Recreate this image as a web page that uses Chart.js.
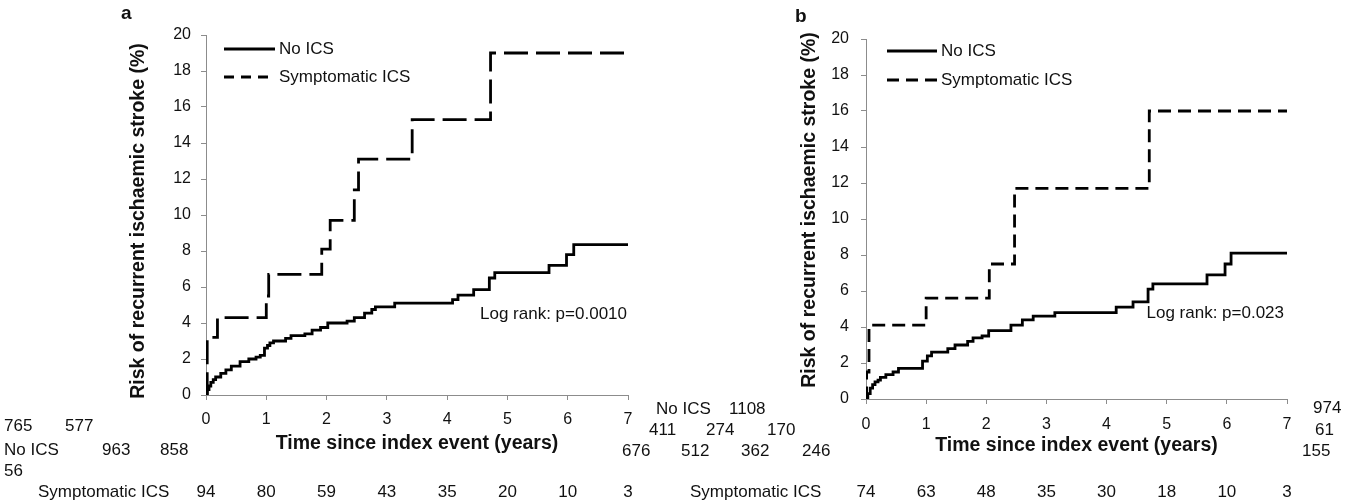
<!DOCTYPE html>
<html><head><meta charset="utf-8">
<script src="https://cdn.jsdelivr.net/npm/chart.js@4.4.1/dist/chart.umd.min.js"></script>
<style>
html,body{margin:0;padding:0;background:#fff;}
#wrap{position:relative;width:1360px;height:502px;overflow:hidden;font-family:"Liberation Sans",Arial,sans-serif;}
canvas{position:absolute;top:0;}
.t{position:absolute;font-size:17px;line-height:20px;white-space:nowrap;color:#111;}
</style></head><body>
<div id="wrap">
<canvas id="ca" width="680" height="502" style="left:0px"></canvas>
<canvas id="cb" width="680" height="502" style="left:680px"></canvas>
</div>
<script>
// ---------- data ----------
const riskTimes = [0, 1, 2, 3, 4, 5, 6, 7];

// Panel a
const aNoIcsTime = [0, 0.02, 0.05, 0.08, 0.12, 0.16, 0.245, 0.33, 0.42, 0.565, 0.71, 0.83, 0.9, 0.97, 1.02, 1.06, 1.12, 1.32, 1.41, 1.64, 1.76, 1.9, 2.02, 2.34, 2.46, 2.63, 2.75, 2.81, 3.13, 4.09, 4.18, 4.44, 4.7, 4.79, 5.69, 5.98, 6.1, 7.0];
const aNoIcsRisk = [0, 0.3, 0.5, 0.7, 0.85, 1.0, 1.2, 1.4, 1.6, 1.85, 2.0, 2.1, 2.2, 2.6, 2.75, 2.9, 3.0, 3.15, 3.3, 3.4, 3.6, 3.75, 4.0, 4.1, 4.3, 4.55, 4.75, 4.9, 5.1, 5.3, 5.55, 5.85, 6.5, 6.8, 7.2, 7.8, 8.35, 8.35];
const aSympTime = [0, 0.02, 0.19, 1.0, 1.04, 1.92, 2.06, 2.46, 2.53, 3.42, 4.72, 7.0];
const aSympRisk = [0, 3.2, 4.3, 5.5, 6.7, 8.1, 9.7, 11.4, 13.1, 15.3, 19.0, 19.0];
const aNoIcsAtRisk = [963, 858, 765, 577, 411, 274, 170, 56];
const aSympAtRisk = [94, 80, 59, 43, 35, 20, 10, 3];

// Panel b
const bNoIcsTime = [0, 0.03, 0.07, 0.11, 0.15, 0.2, 0.24, 0.33, 0.45, 0.54, 0.94, 1.02, 1.09, 1.36, 1.48, 1.69, 1.78, 1.93, 2.04, 2.41, 2.6, 2.78, 3.14, 4.16, 4.44, 4.69, 4.77, 5.67, 5.97, 6.07, 7.0];
const bNoIcsRisk = [0, 0.3, 0.6, 0.8, 0.95, 1.05, 1.2, 1.35, 1.5, 1.7, 2.1, 2.4, 2.6, 2.8, 3.0, 3.2, 3.4, 3.5, 3.8, 4.1, 4.4, 4.6, 4.8, 5.1, 5.4, 6.1, 6.4, 6.9, 7.5, 8.1, 8.1];
const bSympTime = [0, 0.01, 0.05, 1.0, 2.05, 2.47, 4.71, 7.0];
const bSympRisk = [0, 1.5, 4.1, 5.6, 7.5, 11.7, 16.0, 16.0];
const bNoIcsAtRisk = [1108, 974, 676, 512, 362, 246, 155, 61];
const bSympAtRisk = [74, 63, 48, 35, 30, 18, 10, 3];

const xTickLabels = ['0', '1', '2', '3', '4', '5', '6', '7'];
const seriesNames = ['No ICS', 'Symptomatic ICS'];
const yTitle = 'Risk of recurrent ischaemic stroke (%)';
const xTitle = 'Time since index event (years)';

// ---------- layout (positions only) ----------
const aNoIcsPos = [[102,450],[160,450],[4,426],[65,426],[649,430],[706,430],[767,430],[4,471]];
const bNoIcsPos = [[729,409],[1313,408],[622,451],[681,451],[741,451],[802,451],[1302,451],[1315,430]];
const noIcsLabelPos = [[4,450],[656,409]];

function pts(t, r) { return t.map((x, i) => ({x: x, y: r[i]})); }

const FONT = '"Liberation Sans", Arial, sans-serif';
const TXT = '#111';
const AX = '#8c8c8c';

const annot = {
  id: 'annot',
  afterDraw(chart, args, o) {
    const ctx = chart.ctx;
    ctx.save();
    // legend
    for (let i = 0; i < 2; i++) {
      const y = o.legendY[i];
      ctx.strokeStyle = '#000'; ctx.lineWidth = 2.8; ctx.lineCap = 'butt';
      ctx.setLineDash(i === 0 ? [] : o.legendDash);
      ctx.beginPath(); ctx.moveTo(o.legendX, y); ctx.lineTo(o.legendX + o.legendLen, y); ctx.stroke();
      ctx.setLineDash([]);
      ctx.font = '17px ' + FONT; ctx.fillStyle = TXT; ctx.textBaseline = 'middle'; ctx.textAlign = 'left';
      ctx.fillText(seriesNames[i], o.legendX + o.legendLen + 4, y);
    }
    // log rank
    ctx.textAlign = 'right';
    ctx.fillText(o.logText, o.logX, o.logY);
    // panel letter
    ctx.font = 'bold 19px ' + FONT; ctx.textAlign = 'left';
    ctx.fillText(o.letter, o.letterX, o.letterY);
    // y axis title
    ctx.save();
    ctx.translate(o.yTitleX, o.yTitleY);
    ctx.rotate(-Math.PI / 2);
    ctx.font = 'bold 19.5px ' + FONT; ctx.textAlign = 'center'; ctx.textBaseline = 'middle';
    ctx.fillText(yTitle, 0, 0);
    ctx.restore();
    // symptomatic at-risk row
    ctx.font = '17px ' + FONT; ctx.textAlign = 'left'; ctx.textBaseline = 'middle';
    ctx.fillText(seriesNames[1], o.symLabelX, o.symY);
    ctx.textAlign = 'center';
    const xs = chart.scales.x;
    o.symData.forEach((v, i) => ctx.fillText(String(v), xs.getPixelForValue(riskTimes[i]), o.symY));
    ctx.restore();
  }
};

function makeChart(id, noT, noR, syT, syR, box, extra) {
  const W = 680, H = 502;
  return new Chart(document.getElementById(id), {
    type: 'line',
    data: {
      datasets: [
        {label: seriesNames[0], data: pts(noT, noR), borderColor: '#000', borderWidth: 2.8, pointRadius: 0, stepped: true, fill: false},
        {label: seriesNames[1], data: pts(syT, syR), borderColor: '#000', borderWidth: 2.8, pointRadius: 0, stepped: true, fill: false, borderDash: extra.chartDash}
      ]
    },
    options: {
      responsive: false, animation: false, devicePixelRatio: 1,
      layout: {padding: {left: 0, top: box.top, right: W - box.right, bottom: 0}},
      plugins: {legend: {display: false}, tooltip: {enabled: false}, annot: extra},
      scales: {
        x: {
          type: 'linear', min: 0, max: 7,
          afterFit(s) { s.height = H - box.bottom; },
          afterBuildTicks(s) { s.ticks = riskTimes.map(v => ({value: v})); },
          grid: {drawOnChartArea: false, drawTicks: true, tickLength: 5, color: AX, tickColor: AX},
          border: {display: true, color: AX, width: 1},
          ticks: {padding: extra.xTickPad, color: TXT, font: {family: FONT, size: 16}, callback: (v, i) => xTickLabels[i]},
          title: {display: true, text: xTitle, color: TXT, font: {family: FONT, size: 19.5, weight: 'bold'}, padding: {top: 0, bottom: extra.xTitlePad}}
        },
        y: {
          min: 0, max: 20,
          afterFit(s) { s.width = box.left; },
          grid: {drawOnChartArea: false, drawTicks: true, tickLength: 5, color: AX, tickColor: AX},
          border: {display: true, color: AX, width: 1},
          ticks: {stepSize: 2, padding: extra.yTickPad, color: TXT, font: {family: FONT, size: 16}},
          title: {display: false}
        }
      }
    },
    plugins: [annot]
  });
}

makeChart('ca', aNoIcsTime, aNoIcsRisk, aSympTime, aSympRisk,
  {left: 206, right: 628, top: 35, bottom: 395},
  {chartDash: [24, 8], legendDash: [10, 7], legendX: 224, legendLen: 51, legendY: [49, 77],
   logText: 'Log rank: p=0.0010', logX: 627, logY: 314, letter: 'a', letterX: 121, letterY: 14,
   yTitleX: 139, yTitleY: 221,
   symLabelX: 38, symY: 492, symData: aSympAtRisk, xTickPad: 10, xTitlePad: 47, yTickPad: 10});

makeChart('cb', bNoIcsTime, bNoIcsRisk, bSympTime, bSympRisk,
  {left: 186, right: 607, top: 39, bottom: 399},
  {chartDash: [13, 7], legendDash: [12, 7], legendX: 207, legendLen: 50, legendY: [51, 80],
   logText: 'Log rank: p=0.023', logX: 604, logY: 313, letter: 'b', letterX: 115, letterY: 17,
   yTitleX: 130, yTitleY: 210,
   symLabelX: 10, symY: 492, symData: bSympAtRisk, xTickPad: 11, xTitlePad: 45, yTickPad: 12});

// scrambled No ICS at-risk text (as in the reference)
const wrap = document.getElementById('wrap');
function addText(txt, x, cy) {
  const d = document.createElement('div');
  d.className = 't'; d.textContent = txt;
  d.style.left = x + 'px'; d.style.top = (cy - 10) + 'px';
  wrap.appendChild(d);
}
noIcsLabelPos.forEach(p => addText(seriesNames[0], p[0], p[1]));
aNoIcsAtRisk.forEach((v, i) => addText(String(v), aNoIcsPos[i][0], aNoIcsPos[i][1]));
bNoIcsAtRisk.forEach((v, i) => addText(String(v), bNoIcsPos[i][0], bNoIcsPos[i][1]));
</script>
</body></html>
